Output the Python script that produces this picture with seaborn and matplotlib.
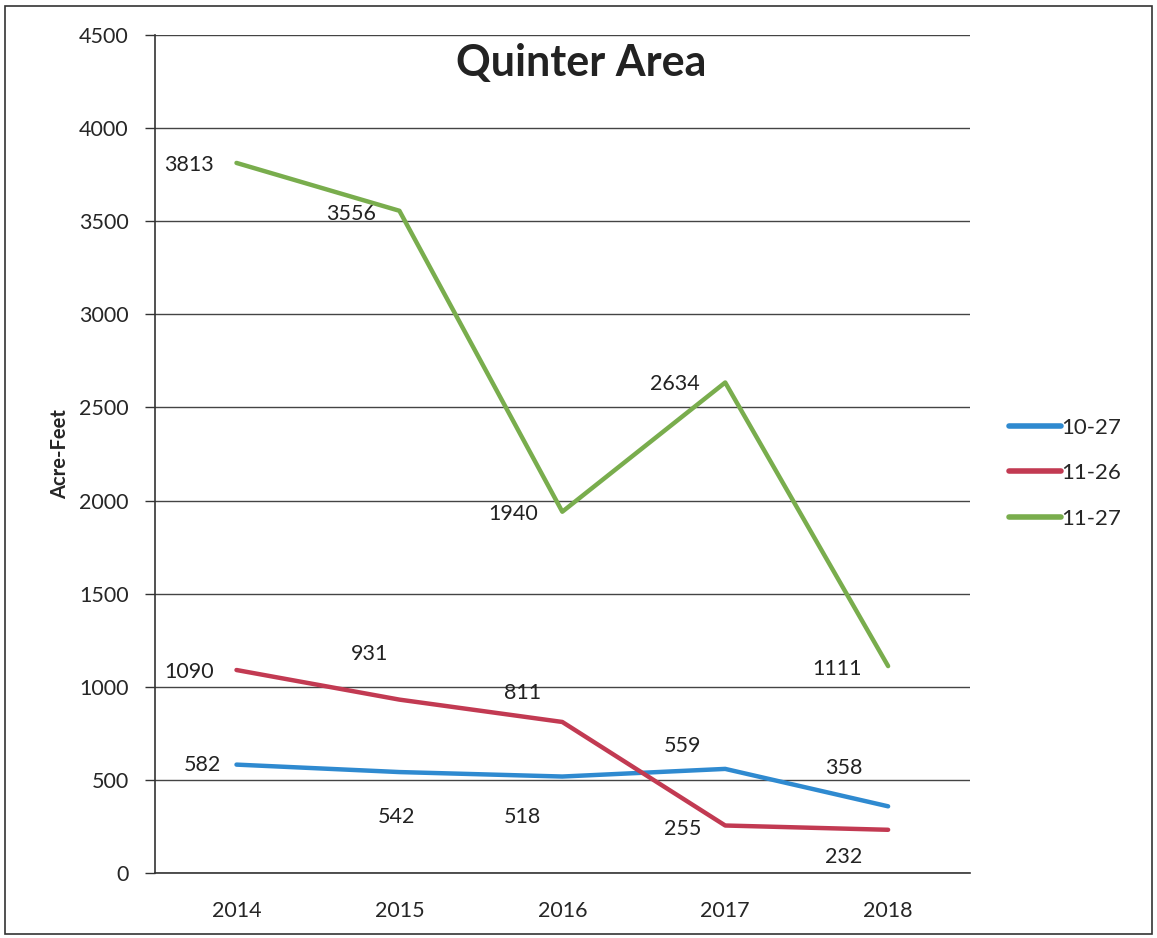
import pandas as pd
import matplotlib.pyplot as plt
import seaborn as sns
import numpy as np

# Dados
anos = ['2014', '2015', '2016', '2017', '2018']
s_1027 = [582, 542, 518, 559, 358]
s_1126 = [1090, 931, 811, 255, 232]
s_1127 = [3813, 3556, 1940, 2634, 1111]
series = ['10-27', '11-26', '11-27']
cores = ['#2f8ad0', '#c23a52', '#79ad4d']

df = pd.DataFrame({
    'pos': list(range(len(anos))) * 3,
    'valor': s_1027 + s_1126 + s_1127,
    'serie': [s for s in series for _ in anos],
})

sns.set_style('white')
plt.rcParams['font.family'] = ['Lato', 'DejaVu Sans']

fig = plt.figure(figsize=(11.57, 9.38), dpi=100)
ax = fig.add_axes([0.134, 0.0693, 0.704, 0.8934])

sns.lineplot(data=df, x='pos', y='valor', hue='serie', palette=cores,
             linewidth=3.2, ax=ax, legend=True)

# deslocamento dos rotulos (pixels)
offs = {
    '10-27': [(-34, 0), (-3, -45), (-40, -40), (-43, 23), (-44, 38)],
    '11-26': [(-47, -2), (-30, 46), (-40, 29), (-43, -3), (-44, -27)],
    '11-27': [(-48, -2), (-48, -3), (-49, -2), (-50, -2), (-51, -3)],
}
for s, vals in zip(series, [s_1027, s_1126, s_1127]):
    for i, v in enumerate(vals):
        ax.annotate(str(v), (i, v), xytext=offs[s][i], textcoords='offset pixels',
                    ha='center', va='center', fontsize=15.5, color='#222222')

ax.set_xlim(-0.5, 4.5)
ax.set_ylim(0, 4500)
ax.set_yticks(np.arange(0, 4501, 500))
ax.set_xticks(range(len(anos)))
ax.set_xticklabels(anos)
ax.set_xticks(np.arange(-0.5, 4.6, 1), minor=True)
ax.tick_params(axis='x', which='major', length=0, labelsize=15.5, pad=20)
ax.tick_params(axis='x', which='minor', length=7, direction='out', width=1, color='#333333')
ax.tick_params(axis='y', length=7, direction='out', width=1, color='#333333',
               labelsize=15.5, left=True, pad=12)
ax.yaxis.grid(True, color='#444444', linewidth=1)
ax.set_axisbelow(True)
for sp in ['top', 'right']:
    ax.spines[sp].set_visible(False)
for sp in ['left', 'bottom']:
    ax.spines[sp].set_color('#333333')
    ax.spines[sp].set_linewidth(1.2)

ax.set_xlabel('')
ax.set_ylabel('Acre-Feet', fontsize=14.5, fontweight='bold', labelpad=6.5)
ax.text(0.523, 0.99, 'Quinter Area', transform=ax.transAxes, ha='center', va='top',
        fontsize=31, fontweight='bold', color='#222222')

leg = ax.legend(loc='center left', bbox_to_anchor=(1.049, 0.477), frameon=False,
                fontsize=16, handlelength=2.3, handletextpad=0.05, labelspacing=1.15,
                borderaxespad=0, borderpad=0)
for h in leg.get_lines():
    h.set_linewidth(4)

# moldura da figura
fig.patches.append(plt.Rectangle((0.004, 0.004), 0.992, 0.99, transform=fig.transFigure,
                                 fill=False, edgecolor='#333333', linewidth=1.2))

plt.savefig('out.png', dpi=100)
